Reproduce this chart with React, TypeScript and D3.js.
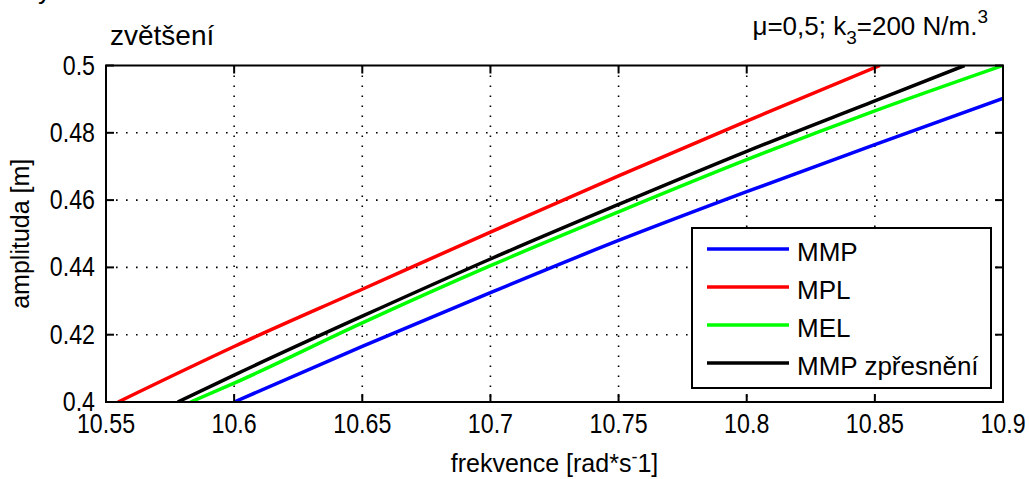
import React from "react";
import * as d3 from "d3";

// Backbone curves of the zoomed region: frequency [rad/s] vs amplitude [m]
const mmpFreq = [10.6, 10.65, 10.7, 10.75, 10.8, 10.85, 10.9];
const mmpAmp = [0.4, 0.4165, 0.4325, 0.448, 0.4625, 0.4765, 0.4902];

const mplFreq = [10.5547, 10.6, 10.65, 10.7, 10.75, 10.8, 10.852];
const mplAmp = [0.4, 0.4165, 0.4335, 0.4505, 0.4672, 0.4835, 0.5];

const melFreq = [10.583, 10.6, 10.65, 10.7, 10.75, 10.8, 10.85, 10.9];
const melAmp = [0.4, 0.4056, 0.4235, 0.4405, 0.4565, 0.472, 0.4865, 0.5];

const mmpzFreq = [10.578, 10.6, 10.65, 10.7, 10.75, 10.8, 10.85, 10.885];
const mmpzAmp = [0.4, 0.408, 0.4255, 0.4425, 0.4587, 0.4745, 0.4895, 0.5];

const seriesNames = ["MMP", "MPL", "MEL", "MMP zpřesnění"];
const seriesColors = ["#0000ff", "#ff0000", "#00ff00", "#000000"];

const xTicks = [10.55, 10.6, 10.65, 10.7, 10.75, 10.8, 10.85, 10.9];
const xTickLabels = ["10.55", "10.6", "10.65", "10.7", "10.75", "10.8", "10.85", "10.9"];
const yTicks = [0.4, 0.42, 0.44, 0.46, 0.48, 0.5];
const yTickLabels = ["0.4", "0.42", "0.44", "0.46", "0.48", "0.5"];

const W = 1029;
const H = 479;
const left = 106;
const right = 1003;
const top = 65.5;
const bottom = 402;

const FONT = '"Liberation Sans", Arial, Helvetica, sans-serif';

export default function App() {
  const x = d3.scaleLinear().domain([10.55, 10.9]).range([left, right]);
  const y = d3.scaleLinear().domain([0.4, 0.5]).range([bottom, top]);

  const line = d3
    .line<[number, number]>()
    .x((d) => x(d[0]))
    .y((d) => y(d[1]))
    .curve(d3.curveMonotoneX);

  const series = [
    { f: mmpFreq, a: mmpAmp },
    { f: mplFreq, a: mplAmp },
    { f: melFreq, a: melAmp },
    { f: mmpzFreq, a: mmpzAmp },
  ].map((s, i) => ({
    name: seriesNames[i],
    color: seriesColors[i],
    pts: s.f.map((v, j) => [v, s.a[j]] as [number, number]),
  }));

  const tickLen = 8;
  const legend = { x0: 692, x1: 991, y0: 228, y1: 388 };
  const rowY = [249, 287, 325, 363];

  return (
    <svg
      width={W}
      height={H}
      style={{ position: "absolute", left: 0, top: 0, background: "#fff" }}
      fontFamily={FONT}
    >
      <rect x={0} y={0} width={W} height={H} fill="#fff" />

      {/* partially visible glyph from the caption above */}
      <text x={38} y={-1} fontSize={26} fill="#000">y</text>

      <clipPath id="plotClip">
        <rect x={left} y={top} width={right - left} height={bottom - top} />
      </clipPath>

      {/* dotted grid */}
      <g stroke="#000" strokeWidth={1.6} strokeDasharray="1.6 8.4">
        {xTicks.slice(1, -1).map((t) => (
          <line key={"gx" + t} x1={x(t)} x2={x(t)} y1={top} y2={bottom} />
        ))}
        {yTicks.slice(1, -1).map((t) => (
          <line key={"gy" + t} x1={left} x2={right} y1={y(t)} y2={y(t)} />
        ))}
      </g>

      {/* curves */}
      <g clipPath="url(#plotClip)" fill="none">
        {series.map((s) => (
          <path
            key={s.name}
            d={line(s.pts) || ""}
            stroke={s.color}
            strokeWidth={3.5}
            strokeLinejoin="round"
          />
        ))}
      </g>

      {/* inward ticks on all four sides */}
      <g stroke="#000" strokeWidth={2}>
        {xTicks.map((t) => (
          <g key={"tx" + t}>
            <line x1={x(t)} x2={x(t)} y1={bottom} y2={bottom - tickLen} />
            <line x1={x(t)} x2={x(t)} y1={top} y2={top + tickLen} />
          </g>
        ))}
        {yTicks.map((t) => (
          <g key={"ty" + t}>
            <line x1={left} x2={left + tickLen} y1={y(t)} y2={y(t)} />
            <line x1={right} x2={right - tickLen} y1={y(t)} y2={y(t)} />
          </g>
        ))}
      </g>

      {/* axes box */}
      <rect
        x={left}
        y={top}
        width={right - left}
        height={bottom - top}
        fill="none"
        stroke="#000"
        strokeWidth={2}
      />

      {/* tick labels */}
      <g fontSize={27} fill="#000">
        {xTicks.map((t, i) => (
          <text
            key={"lx" + t}
            transform={`translate(${x(t)},${433}) scale(0.86,1)`}
            textAnchor="middle"
          >
            {xTickLabels[i]}
          </text>
        ))}
        {yTicks.map((t, i) => (
          <text
            key={"ly" + t}
            transform={`translate(${95},${y(t) + 9}) scale(0.86,1)`}
            textAnchor="end"
          >
            {yTickLabels[i]}
          </text>
        ))}
      </g>

      {/* axis labels */}
      <text x={(left + right) / 2} y={472} textAnchor="middle" fontSize={25} fill="#000">
        frekvence [rad*s
        <tspan dy={-9} fontSize={18}>-</tspan>
        <tspan dy={9}>1]</tspan>
      </text>
      <text
        transform={`translate(${29},${(top + bottom) / 2}) rotate(-90)`}
        textAnchor="middle"
        fontSize={25}
        fill="#000"
      >
        amplituda [m]
      </text>

      {/* titles */}
      <text x={110} y={45} fontSize={28} fill="#000">zvětšení</text>
      <text x={988} y={35} textAnchor="end" fontSize={26} fill="#000">
        μ=0,5; k
        <tspan dy={9} fontSize={19}>3</tspan>
        <tspan dy={-9}>=200 N/m.</tspan>
        <tspan dy={-12} fontSize={19}>3</tspan>
      </text>

      {/* legend */}
      <rect
        x={legend.x0}
        y={legend.y0}
        width={legend.x1 - legend.x0}
        height={legend.y1 - legend.y0}
        fill="#fff"
        stroke="#000"
        strokeWidth={2}
      />
      {series.map((s, i) => (
        <g key={"lg" + s.name}>
          <line x1={707} x2={789} y1={rowY[i]} y2={rowY[i]} stroke={s.color} strokeWidth={3.5} />
          <text x={797} y={rowY[i] + 12} fontSize={26} fill="#000">
            {s.name}
          </text>
        </g>
      ))}
    </svg>
  );
}
